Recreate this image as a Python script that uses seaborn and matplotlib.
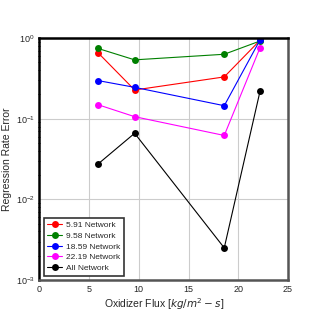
import pandas as pd
import seaborn as sns
import matplotlib.pyplot as plt

flux = [5.91, 9.58, 18.59, 22.19]
err_591 = [0.656, 0.227, 0.33, 0.94]
err_958 = [0.743, 0.537, 0.63, 0.92]
err_1859 = [0.297, 0.245, 0.145, 0.95]
err_2219 = [0.149, 0.106, 0.062, 0.76]
err_all = [0.0275, 0.066, 0.0025, 0.22]

series = ['5.91 Network', '9.58 Network', '18.59 Network', '22.19 Network', 'All Network']
colors = ['red', 'green', 'blue', 'magenta', 'black']

rows = []
for name, vals in zip(series, [err_591, err_958, err_1859, err_2219, err_all]):
    for x, y in zip(flux, vals):
        rows.append({'flux': x, 'err': y, 'net': name})
df = pd.DataFrame(rows)

sns.set_style("white")
plt.rcParams['font.family'] = ['Liberation Sans', 'DejaVu Sans']
plt.rcParams['mathtext.fontset'] = 'dejavusans'

fig = plt.figure(figsize=(3.2, 3.2), dpi=100)
ax = fig.add_axes([0.123, 0.125, 0.777, 0.756])

sns.lineplot(data=df, x='flux', y='err', hue='net', hue_order=series,
             palette=colors, marker='o', markersize=5, markeredgewidth=0,
             linewidth=0.8, ax=ax)

ax.set_yscale('log')
ax.set_xlim(0, 25)
ax.set_ylim(1e-3, 1)
ax.set_xticks([0, 5, 10, 15, 20, 25])
ax.grid(True, which='major', color='#cccccc', linewidth=0.8)
ax.set_axisbelow(True)

for side in ['left', 'top']:
    ax.spines[side].set_color('black')
for side in ['bottom', 'right']:
    ax.spines[side].set_color('#555555')
for side in ax.spines:
    ax.spines[side].set_linewidth(1.8)

ax.tick_params(which='major', direction='inout', length=4.5, width=0.9, labelsize=6.5, pad=1)
ax.tick_params(which='minor', direction='inout', length=2, width=0.7, left=True)

ax.set_xlabel('Oxidizer Flux [$kg/m^2-s$]', fontsize=7.5, labelpad=2)
ax.set_ylabel('Regression Rate Error', fontsize=7.5, labelpad=3)

leg = ax.legend(loc='lower left', fontsize=6, fancybox=False, framealpha=1,
                edgecolor='#333333', borderpad=0.45, handlelength=1.8,
                handletextpad=0.5, labelspacing=0.35, borderaxespad=0.5)
leg.get_frame().set_linewidth(1.2)

fig.savefig('out.png', dpi=100)
